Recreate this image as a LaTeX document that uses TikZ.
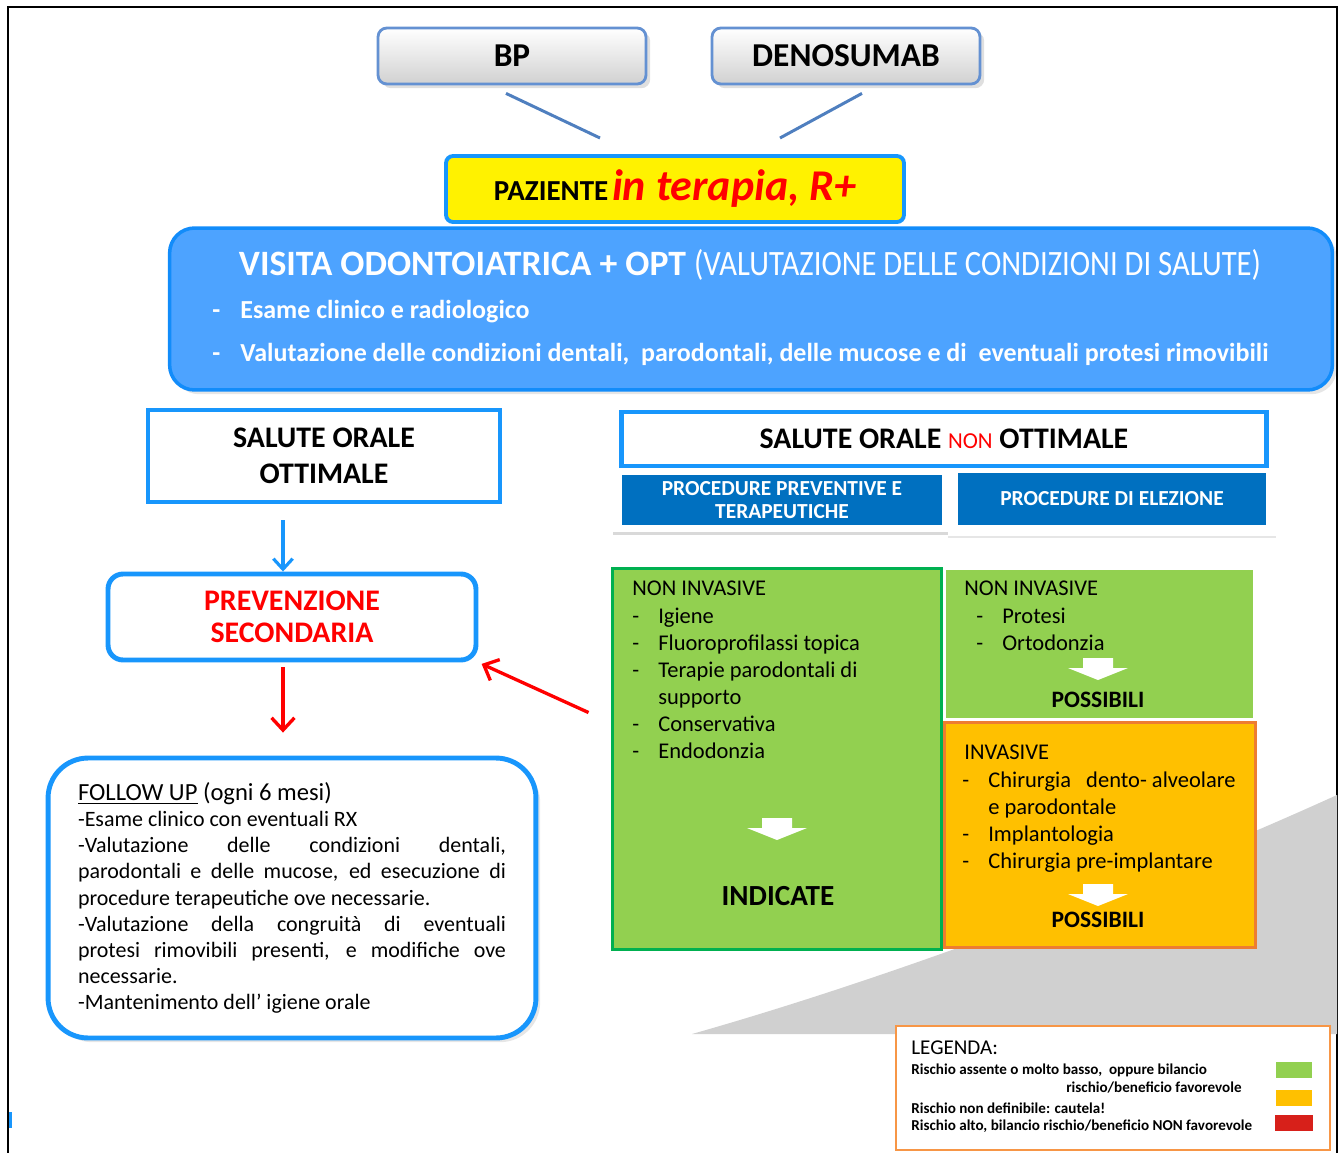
\documentclass[tikz,border=0pt]{standalone}
\usepackage{fontspec}
\setmainfont{Carlito}
\usepackage{graphicx}
\usetikzlibrary{positioning, arrows.meta, shadows}

\definecolor{skyline}{RGB}{24,150,252}
\definecolor{visitfill}{RGB}{77,163,255}
\definecolor{visitedge}{RGB}{18,140,250}
\definecolor{procblue}{RGB}{0,112,192}
\definecolor{lowrisk}{RGB}{146,208,80}
\definecolor{lowedge}{RGB}{0,176,80}
\definecolor{midrisk}{RGB}{255,192,0}
\definecolor{midedge}{RGB}{237,125,49}
\definecolor{highrisk}{RGB}{215,32,26}
\definecolor{legendedge}{RGB}{247,150,70}
\definecolor{drugedge}{RGB}{100,145,210}
\definecolor{linkblue}{RGB}{79,127,191}
\definecolor{slopegrey}{RGB}{208,208,208}

\newcommand{\litem}[1]{\makebox[0.52cm][l]{-}#1}

\tikzset{
    drugbox/.style={draw=drugedge, line width=1.6pt, rounded corners=5pt, top color=white, bottom color=black!18, minimum width=5.36cm, minimum height=1.12cm, drop shadow={opacity=0.25}, font=\bfseries\fontsize{19}{22}\selectfont},
    link/.style={draw=linkblue, line width=1.7pt},
    skybox/.style={draw=skyline, line width=2.8pt, fill=white},
    procbox/.style={fill=procblue, text=white, align=center, font=\bfseries\fontsize{12.2}{13.6}\selectfont},
    listtext/.style={anchor=north west, inner sep=0pt, align=left, font=\fontsize{12.8}{15.4}\selectfont},
    verdict/.style={font=\bfseries\fontsize{13.4}{15}\selectfont},
    legtext/.style={anchor=west, inner sep=0pt, font=\bfseries\fontsize{8.6}{10}\selectfont},
    swatch/.style={minimum width=0.72cm, minimum height=0.32cm, inner sep=0pt},
    skyarrow/.style={draw=skyline, line width=1.8pt, -{Straight Barb[length=6pt,width=11pt]}},
    redarrow/.style={draw=red, line width=1.9pt, -{Straight Barb[length=7pt,width=13pt]}},
    downblock/.pic={\fill[white] (-15,-11) -- (15,-11) -- (15,-1) -- (30,-1) -- (0,11) -- (-30,-1) -- (-15,-1) -- cycle;}
}

\begin{document}
\begin{tikzpicture}[x=0.02cm, y=-0.02cm]
    \useasboundingbox (0,0) rectangle (1340,1153);
    % page frame
    \draw[line width=1.6pt] (8,1153) -- (8,7) -- (1337,7) -- (1337,1153);
    \fill[skyline] (9,1112) rectangle (12,1128);
    % grey slope behind the boxes
    \fill[slopegrey] (692,1034) .. controls (900,975) and (1150,880) .. (1337,795) -- (1337,1034) -- cycle;

    % drugs and patient
    \node[drugbox] (bp) at (512,56) {BP};
    \node[drugbox] (deno) at (846,56) {DENOSUMAB};
    \coordinate (bpfoot) at (600,138);
    \coordinate (denofoot) at (780,138);
    \draw[link] ([shift={(-6,8)}]bp.south) -- (bpfoot);
    \draw[link] ([shift={(16,8)}]deno.south) -- (denofoot);
    \node[fill=yellow, draw=skyline, line width=2.2pt, rounded corners=4pt, minimum width=9.16cm, minimum height=1.32cm] (paz) at (675,189) {{\bfseries\fontsize{16.5}{18}\selectfont PAZIENTE} {\color{red}\bfseries\itshape\fontsize{25}{28}\selectfont in terapia, R+}};

    % visit
    \node[fill=visitfill, draw=visitedge, line width=2pt, rounded corners=0.5cm, minimum width=23.26cm, minimum height=3.24cm, drop shadow={opacity=0.2}] (visit) at (751,309) {};
    \node[text=white, font=\fontsize{20.3}{22}\selectfont] (visittitle) at (750,265) {\bfseries VISITA ODONTOIATRICA + OPT \mdseries\scalebox{0.86}[1]{(VALUTAZIONE DELLE CONDIZIONI DI SALUTE)}};
    \node[anchor=west, inner sep=0pt, text=white, font=\bfseries\fontsize{14.8}{17}\selectfont] (exam) at (212,312) {\makebox[0.56cm][l]{-}Esame clinico e radiologico};
    \node[anchor=west, inner sep=0pt, text=white, font=\bfseries\fontsize{14.8}{17}\selectfont] (check) at (212,354) {\makebox[0.56cm][l]{-}Valutazione delle condizioni dentali,~ parodontali, delle mucose e di~ eventuali protesi rimovibili};

    % left branch
    \node[skybox, minimum width=7.04cm, minimum height=1.84cm, align=center, font=\bfseries\fontsize{17}{20.4}\selectfont] (ottimale) at (324,456) {SALUTE ORALE\\OTTIMALE};
    \node[skybox, rounded corners=0.3cm, minimum width=7.36cm, minimum height=1.72cm, align=center, text=red, font=\bfseries\fontsize{17}{18.2}\selectfont] (prev) at (292,617) {PREVENZIONE\\SECONDARIA};
    \node[skybox, rounded corners=0.8cm, minimum width=9.76cm, minimum height=5.6cm, text width=8.56cm, align=justify, drop shadow={opacity=0.2}, font=\fontsize{12.5}{14.9}\selectfont] (followup) at (292,898) {%
        {\fontsize{14}{16}\selectfont\underline{FOLLOW UP} (ogni 6 mesi)\par}
        -Esame clinico con eventuali RX\par
        -Valutazione delle condizioni dentali,\linebreak parodontali e delle mucose, ed esecuzione di\linebreak procedure terapeutiche ove necessarie.\par
        -Valutazione della congruità di eventuali\linebreak protesi rimovibili presenti, e modifiche ove\linebreak necessarie.\par
        -Mantenimento dell’ igiene orale};
    \coordinate (drop) at (283,520);
    \draw[skyarrow] (drop) -- (drop |- prev.north);
    \draw[redarrow, shorten <=0.1cm, shorten >=0.46cm] (prev.south -| drop) -- (followup.north -| drop);

    % right branch
    \node[fill=white, drop shadow={opacity=0.3, shadow xshift=0.5pt, shadow yshift=-1.5pt}, minimum width=6.72cm, minimum height=1.24cm] (prevpanel) at (780,501) {};
    \node[fill=white, drop shadow={opacity=0.2, shadow xshift=0pt, shadow yshift=-1pt}, minimum width=6.56cm, minimum height=1.32cm] (electpanel) at (1112,503) {};
    \node[skybox, minimum width=12.9cm, minimum height=1.08cm, font=\bfseries\fontsize{17}{20}\selectfont] (nonott) at (944,439) {SALUTE ORALE {\color{red}\mdseries\fontsize{13}{15}\selectfont NON} OTTIMALE};
    \node[procbox, minimum width=6.4cm, minimum height=0.94cm] (prevproc) at (782,500) {PROCEDURE PREVENTIVE E\\TERAPEUTICHE};
    \node[procbox, minimum width=6.16cm, minimum height=1.04cm] (electproc) at (1112,499) {PROCEDURE DI ELEZIONE};

    \node[fill=lowrisk, draw=lowedge, line width=1.7pt, minimum width=6.6cm, minimum height=7.64cm] (indbox) at (777,759) {};
    \node[fill=lowrisk, minimum width=6.14cm, minimum height=2.96cm] (nibox) at (1099.5,644) {};
    \node[fill=midrisk, draw=midedge, line width=1.7pt, minimum width=6.24cm, minimum height=4.52cm] (invbox) at (1100,835) {};

    \node[listtext] (indlist) at (632,581) {NON INVASIVE\\ \litem{Igiene}\\ \litem{Fluoroprofilassi topica}\\ \litem{Terapie parodontali di}\\ \hspace*{0.52cm}supporto\\ \litem{Conservativa}\\ \litem{Endodonzia}};
    \pic (indarrow) at (777,829) {downblock};
    \node[font=\bfseries\fontsize{16.6}{18}\selectfont] (indicate) at (778,896) {INDICATE};

    \node[listtext] (nilist) at (964,581) {NON INVASIVE\\ \hspace*{0.24cm}\litem{Protesi}\\ \hspace*{0.24cm}\litem{Ortodonzia}};
    \pic (niarrow) at (1098,669) {downblock};
    \node[verdict] (nipossible) at (1098,700) {POSSIBILI};

    \node[listtext] (invlist) at (962,745) {\hspace*{0.04cm}INVASIVE\\ \litem{Chirurgia~~ dento- alveolare}\\ \hspace*{0.52cm}e parodontale\\ \litem{Implantologia}\\ \litem{Chirurgia pre-implantare}};
    \pic (invarrow) at (1098,895) {downblock};
    \node[verdict] (invpossible) at (1098,920) {POSSIBILI};

    \draw[redarrow, shorten >=2pt] ([shift={(-22,146)}]indbox.north west) -- (prev.south east);

    % legend
    \node[draw=legendedge, line width=1pt, fill=white, minimum width=8.68cm, minimum height=2.48cm] (legend) at (1113,1088) {};
    \node[anchor=west, inner sep=0pt, font=\fontsize{12}{14}\selectfont] (legtitle) at (911,1048) {LEGENDA:};
    \node[legtext] (leglow) at (911,1070) {Rischio assente o molto basso,~ oppure bilancio};
    \node[legtext] (leglowb) at (1066,1088) {rischio/beneficio favorevole};
    \node[legtext] (legmid) at (911,1108) {Rischio non definibile: cautela!};
    \node[legtext] (leghigh) at (911,1126) {Rischio alto, bilancio rischio/beneficio NON favorevole};
    \node[swatch, fill=lowrisk] (swlow) at (1294,1070) {};
    \node[swatch, fill=midrisk, below=0.22cm of swlow] (swmid) {};
    \node[swatch, fill=highrisk, minimum width=0.76cm, below=0.18cm of swmid] (swhigh) {};
\end{tikzpicture}
\end{document}
